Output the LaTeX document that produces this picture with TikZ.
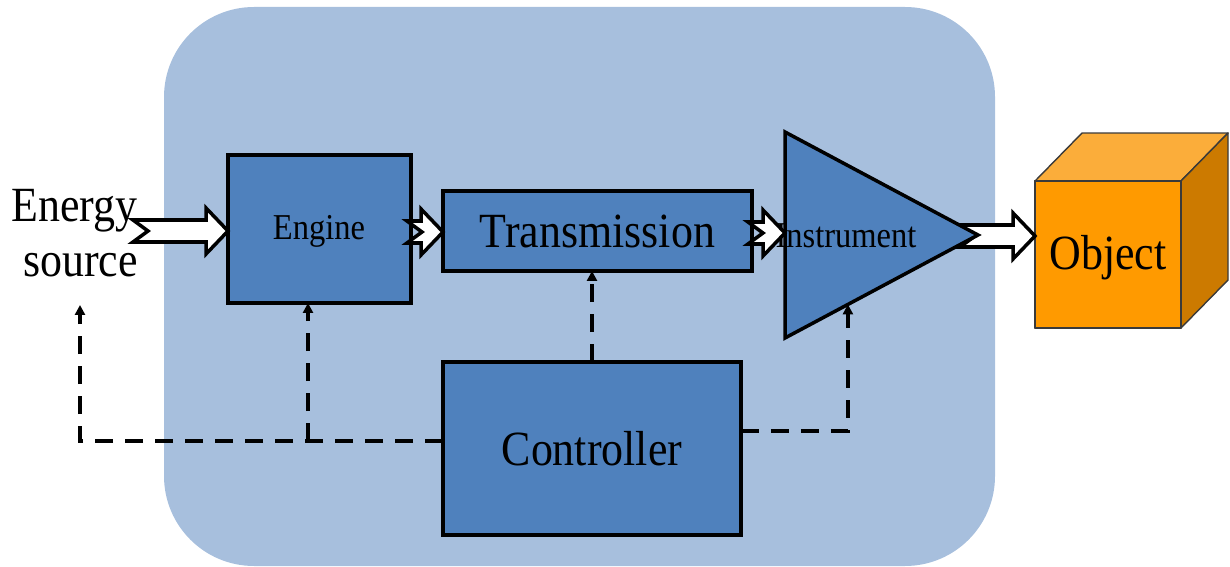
\documentclass[tikz,border=0pt]{standalone}
\usepackage{fontspec}
\setmainfont{Liberation Serif}
\usetikzlibrary{calc,arrows.meta}

\definecolor{panel}{HTML}{A7BFDD}
\definecolor{boxblue}{HTML}{4F81BD}
\definecolor{cubefront}{HTML}{FF9A00}
\definecolor{cubetop}{HTML}{FBAD3A}
\definecolor{cubeside}{HTML}{CC7A00}
\definecolor{cubeedge}{HTML}{3A3A3A}

% hollow block arrow between two points (horizontal, left to right)
\newcommand\blockarrow[2]{%
  \draw[hollow] let \p1=#1, \p2=#2 in
    (\x1,\y1+0.22cm) -- (\x2-0.44cm,\y1+0.22cm) -- (\x2-0.44cm,\y1+0.46cm)
    -- (\x2,\y1) -- (\x2-0.44cm,\y1-0.46cm) -- (\x2-0.44cm,\y1-0.22cm)
    -- (\x1,\y1-0.22cm) -- (\x1+0.3cm,\y1) -- cycle;}
% slightly tall lettering
\newcommand\tall[1]{\scalebox{1}[1.12]{#1}}

\begin{document}
\begin{tikzpicture}[x=0.02cm,y=-0.02cm,
  block/.style={draw=black, line width=2pt, fill=boxblue, inner sep=0pt, outer sep=0pt},
  ctrl/.style={draw=black, line width=2.3pt, dash pattern=on 0.36cm off 0.24cm,
    -{Triangle[length=0.2cm,width=0.2cm]}},
  hollow/.style={draw=black, fill=white, line width=2pt, line join=miter},
  big/.style={font=\fontsize{25}{29}\selectfont},
  small/.style={font=\fontsize{18.5}{22}\selectfont},
  face/.style={draw=cubeedge, line width=0.8pt, line join=round}]

\useasboundingbox (0,0) rectangle (1230,567);

% system panel
\fill[panel, rounded corners=1.8cm] (164,7) rectangle (995,566);

% source label
\node[big, align=right, anchor=east, inner sep=0pt] (source) at (138,233) {\tall{Energy}\\[2pt]\tall{source}};
\coordinate (src) at (133,231);

% blocks
\node[block, minimum width=3.66cm, minimum height=2.96cm] (engine) at (319.5,229) {};
\node[small] at (319,231) {\tall{Engine}};
\node[block, minimum width=6.18cm, minimum height=1.6cm, big] (transmission) at (597.5,231) {\tall{Transmission}};
\node[block, minimum width=5.96cm, minimum height=3.46cm, big] (controller) at (592,448.5) {\tall{Controller}};

% instrument (triangle)
\coordinate (instr-nw) at (785,132);
\coordinate (instr-sw) at (785,338);
\coordinate (instr-tip) at (978,235);
\coordinate (instr-out) at (960,236);
\coordinate (instr-in) at (785,232);

% object (cube)
\node[face, fill=cubefront, minimum width=2.92cm, minimum height=2.94cm, inner sep=0pt, outer sep=0pt, big] (object) at (1108,254.5) {};
\fill[cubetop] (object.north west) -- ++(47,-48) -- ++(146,0) -- (object.north east) -- cycle;
\draw[face] (object.north west) -- ++(47,-48) -- ++(146,0) -- (object.north east);
\fill[cubeside] (object.north east) -- ++(47,-48) -- ++(0,147) -- (object.south east) -- cycle;
\draw[face] (object.north east) -- ++(47,-48) -- ++(0,147) -- (object.south east);
\draw[face] (object.north west) rectangle (object.south east);
\node[big] at (1108,258) {\tall{Object}};

% power flow
\blockarrow{(src)}{(engine.west |- src)}
\blockarrow{(instr-out)}{(object.west |- instr-out)}
\draw[block, line join=miter] (instr-nw) -- (instr-tip) -- (instr-sw) -- cycle;
\node[small] at (846,236) {\tall{Instrument}};
\blockarrow{($(engine.east)+(-4,3)$)}{(transmission.west |- 0,232)}
\blockarrow{($(transmission.east)+(-4,2)$)}{(instr-in)}

% control signals
\coordinate (fb-src) at (80,305);
\coordinate (tee) at (308,441);
\coordinate (instr-ctl) at ($(instr-sw)!0.326!(instr-tip)$);
\draw[ctrl] (controller.west |- tee) -| (fb-src);
\draw[ctrl] (tee) -- (tee |- engine.south);
\draw[ctrl] (controller.north) -- (controller.north |- transmission.south);
\draw[ctrl] (controller.east |- 0,431) -| (instr-ctl);

\end{tikzpicture}
\end{document}
